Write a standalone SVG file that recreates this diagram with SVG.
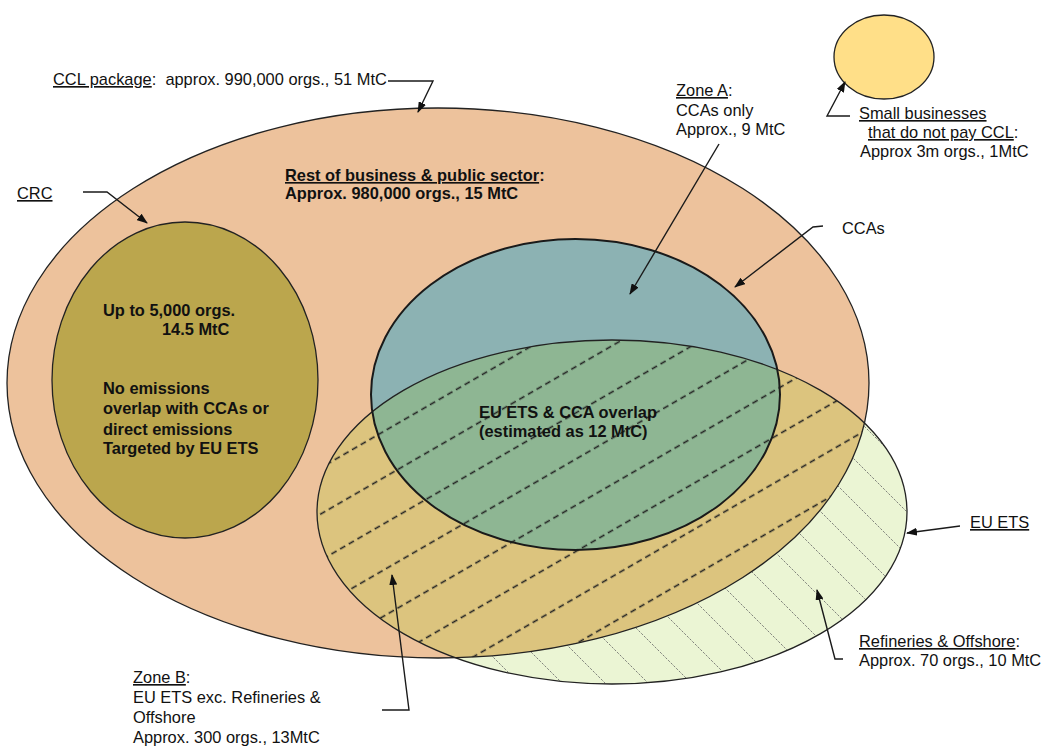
<svg xmlns="http://www.w3.org/2000/svg" width="1044" height="751" viewBox="0 0 1044 751">
<style>
.t{font-family:"Liberation Sans",Arial,sans-serif;font-size:16.4px;fill:#111}
.b{font-weight:bold}
.u{text-decoration:underline}
.out{fill:none;stroke:#222;stroke-width:1.3}
.con{fill:none;stroke:#1a1a1a;stroke-width:1.4}
.hb{fill:none;stroke:#666;stroke-width:0.8;stroke-dasharray:2.4 1.4}
</style>
<defs>
<marker id="ah" markerUnits="userSpaceOnUse" markerWidth="11" markerHeight="8" refX="10" refY="4" orient="auto">
<path d="M0,0 L11,4 L0,8 z" fill="#111"/>
</marker>
<pattern id="hatchA" patternUnits="userSpaceOnUse" width="10" height="40" patternTransform="rotate(-30)">
<line x1="0" y1="5.5" x2="6" y2="5.5" stroke="#222" stroke-width="1.6"/>
</pattern>
<clipPath id="clipCCL"><ellipse cx="438" cy="383" rx="431" ry="275"/></clipPath>
<clipPath id="clipETS"><ellipse cx="612" cy="512" rx="295" ry="172"/></clipPath>
</defs>

<g id="ccl">
<ellipse cx="438" cy="383" rx="431" ry="275" fill="#EDC29C"/>
</g>

<g id="crc">
<ellipse cx="185" cy="380" rx="133" ry="158" fill="#BBA64D" stroke="#222" stroke-width="1.3"/>
</g>

<g id="eu-ets">
<ellipse cx="612" cy="512" rx="295" ry="172" fill="#EBF5D4"/>
<g clip-path="url(#clipETS)">
<path class="hb" d="M300,-181 L920,439 M300,-138 L920,482 M300,-95 L920,525 M300,-52 L920,568 M300,-9 L920,611 M300,34 L920,654 M300,77 L920,697 M300,120 L920,740 M300,163 L920,783 M300,206 L920,826 M300,249 L920,869 M300,292 L920,912 M300,335 L920,955 M300,378 L920,998 M300,421 L920,1041 M300,464 L920,1084 M300,507 L920,1127 M300,550 L920,1170"/>
</g>
<ellipse cx="612" cy="512" rx="295" ry="172" fill="#DCC47E" clip-path="url(#clipCCL)"/>
</g>

<g id="ccas">
<ellipse cx="575.5" cy="394.5" rx="204.5" ry="155.5" fill="#8CB2B3"/>
<ellipse cx="575.5" cy="394.5" rx="204.5" ry="155.5" fill="#8EB693" clip-path="url(#clipETS)"/>
</g>

<g id="overlap-hatch" clip-path="url(#clipCCL)">
<ellipse cx="612" cy="512" rx="295" ry="172" fill="url(#hatchA)"/>
</g>

<g id="outlines">
<ellipse class="out" cx="438" cy="383" rx="431" ry="275"/>
<ellipse class="out" cx="612" cy="512" rx="295" ry="172"/>
<ellipse cx="575.5" cy="394.5" rx="204.5" ry="155.5" fill="none" stroke="#1a1a1a" stroke-width="2"/>
</g>

<g id="small-businesses">
<ellipse cx="884" cy="57" rx="50" ry="42" fill="#FFDF88" stroke="#222" stroke-width="1.3"/>
</g>

<g id="connectors">
<path class="con" d="M388,81 L433,81 L418,112" marker-end="url(#ah)"/>
<path class="con" d="M83,192 L107,192 L147,223" marker-end="url(#ah)"/>
<path class="con" d="M719,144 L630,294" marker-end="url(#ah)"/>
<path class="con" d="M823,226 L813,227 L735,287" marker-end="url(#ah)"/>
<path class="con" d="M850,116 L827,116 L845,82" marker-end="url(#ah)"/>
<path class="con" d="M960,526 L907,533" marker-end="url(#ah)"/>
<path class="con" d="M843,659 L835,659 L817,590" marker-end="url(#ah)"/>
<path class="con" d="M382,710 L409,710 L392,575" marker-end="url(#ah)"/>
</g>

<g id="labels">
<text class="t" x="53" y="85" xml:space="preserve"><tspan class="u">CCL package</tspan>:  approx. 990,000 orgs., 51 MtC</text>
<text class="t u" x="17" y="199">CRC</text>
<text class="t b" x="285" y="181"><tspan class="u">Rest of business &amp; public sector</tspan>:</text>
<text class="t b" x="285" y="199">Approx. 980,000 orgs., 15 MtC</text>
<text class="t b" x="103" y="316">Up to 5,000 orgs.</text>
<text class="t b" x="162" y="335">14.5 MtC</text>
<text class="t b" x="103" y="394">No emissions</text>
<text class="t b" x="103" y="414">overlap with CCAs or</text>
<text class="t b" x="103" y="435">direct emissions</text>
<text class="t b" x="103" y="454">Targeted by EU ETS</text>
<text class="t" x="676" y="96"><tspan class="u">Zone A</tspan>:</text>
<text class="t" x="676" y="116">CCAs only</text>
<text class="t" x="676" y="135">Approx., 9 MtC</text>
<text class="t" x="842" y="234">CCAs</text>
<text class="t u" x="859" y="119">Small businesses</text>
<text class="t" x="868" y="138"><tspan class="u">that do not pay CCL</tspan>:</text>
<text class="t" x="860" y="157">Approx 3m orgs., 1MtC</text>
<text class="t b" x="479" y="418">EU ETS &amp; CCA overlap</text>
<text class="t b" x="479" y="437">(estimated as 12 MtC)</text>
<text class="t u" x="970" y="528">EU ETS</text>
<text class="t" x="859" y="647"><tspan class="u">Refineries &amp; Offshore</tspan>:</text>
<text class="t" x="859" y="666">Approx. 70 orgs., 10 MtC</text>
<text class="t" x="133" y="683"><tspan class="u">Zone B</tspan>:</text>
<text class="t" x="133" y="703">EU ETS exc. Refineries &amp;</text>
<text class="t" x="133" y="723">Offshore</text>
<text class="t" x="133" y="743">Approx. 300 orgs., 13MtC</text>
</g>
</svg>
